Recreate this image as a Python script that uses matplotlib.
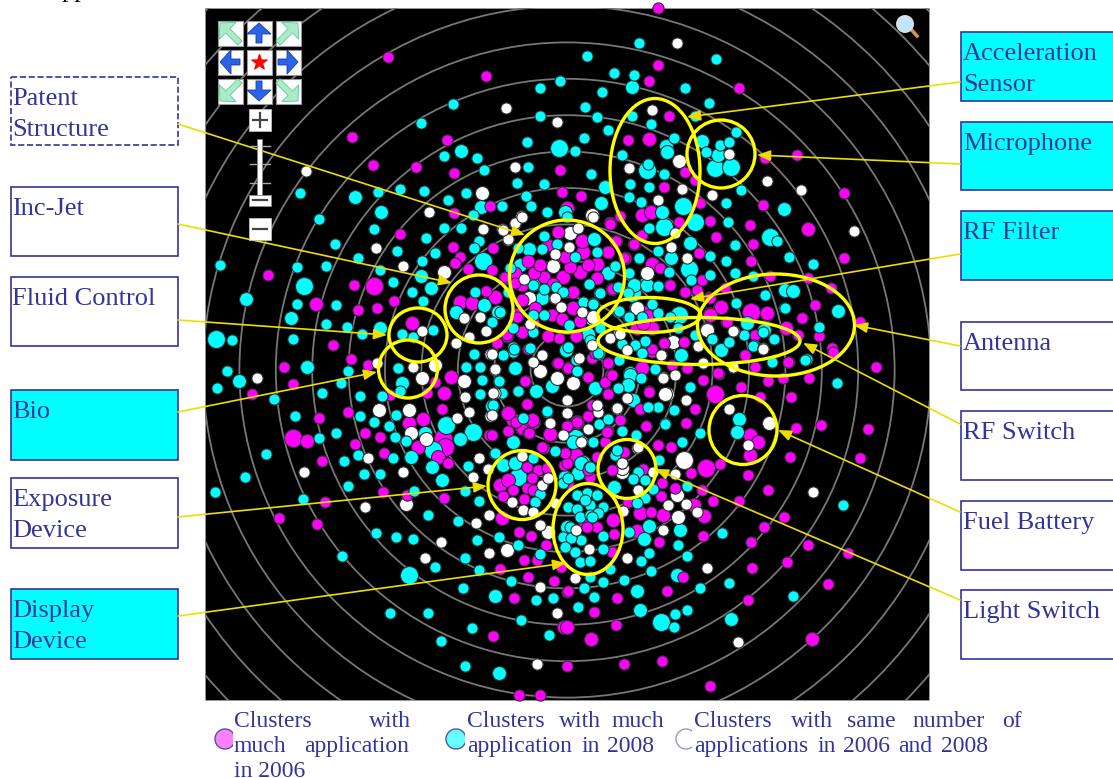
import matplotlib
matplotlib.use("Agg")
import matplotlib.pyplot as plt
from matplotlib.patches import Circle, Ellipse, FancyArrow, Rectangle

# everything in pixel coordinates
magenta_small = [(388,57),(486,76),(352,137),(447,140),(373,165),(416,167),(454,173),(560,170),(562,192),(490,206),
    (454,213),(400,234),(453,247),(493,248),(460,257),(455,263),(468,269),(492,270),(268,275),(354,285),(394,301),
    (358,310),(377,308),(333,345),(486,291),(517,317),(505,277),(515,283),
    (507,335),(497,343),(559,338),
    (658,8),(658,65),(649,81),(739,88),(669,116),(628,140),(797,155),(765,158),(685,172),(664,187),(695,180),(844,193),
    (581,196),(763,205),(700,203),(710,221),(750,225),(610,224),(620,216),(679,222),(716,237),(753,244),(634,244),
    (616,241),(642,235),(699,253),(751,261),(844,258),(624,258),(660,268),(702,280),(669,285),(685,292),(697,291),
    (725,288),(770,276),(808,278),(831,288),(815,305),(802,318),(860,322),(819,336),(709,297),(726,322),(755,335),
    (798,335),(832,348),(684,342),(664,343),
    (351,359),(284,367),(368,365),(293,384),(252,394),(435,382),(390,395),(427,393),(348,412),(319,418),(442,409),
    (365,433),(380,437),(355,444),(322,461),(384,453),(448,463),(489,435),(527,404),(522,429),(528,433),
    (544,448),(565,453),(564,465),(526,381),(557,363),(567,368),(567,427),(383,492),(407,495),(325,502),(444,498),
    (279,518),(317,524),(519,532),(531,536),(546,545),(524,560),(537,560),(500,569),(528,577),(554,581),(514,598),
    (567,592),(493,636),(567,666),(519,695),(540,695),(561,567),(503,496),(513,490),(527,467),(538,470),(532,478),
    (547,468),(524,499),(527,488),(533,490),
    (876,367),(809,378),(783,378),(768,381),(703,380),(741,387),(760,397),(791,397),(719,374),(649,391),(695,409),
    (640,409),(686,423),(646,426),(796,428),(821,425),(868,429),(790,457),(860,458),(720,464),(691,473),(748,475),
    (658,445),(671,447),(768,490),(702,490),(675,488),(661,496),(739,501),(713,501),(784,517),(764,527),(651,512),
    (703,536),(751,542),(808,545),(848,553),(659,542),(787,562),(752,568),(828,584),(683,577),(667,591),(748,600),
    (617,598),(594,612),(616,625),(568,591),(624,664),(662,661),(710,686),(614,534),(612,552),(583,521),(597,527),
    (587,527),(608,393),(605,383),(610,375),(608,364),(588,377),(592,405),(588,416),(608,431),(620,420),(568,426),
    (605,442),(624,453),(597,457),(589,467),(612,470),(590,477),(567,463),(643,469),(662,483),(628,502),(568,483),
    (755,367),(789,362),(745,355),(687,368),(672,365),(592,358),(833,352),(652,352),(568,367)]
magenta_mid = [(316,304),(412,323),(495,297),(460,302),(472,303),(649,139),(642,215),(651,212),(808,229),(652,264),
    (710,314),(720,307),(767,314),(786,328),(567,208),
    (645,313),(637,328),(652,328),(451,377),(444,393),(423,419),(409,423),(307,441),(418,447),(438,457),
    (508,413),(513,420),(533,422),(550,435),(502,518),(564,627),(500,485),(508,480),(750,435),(758,442),(750,455),
    (694,505),(704,516),(663,515),(640,513),(637,531),(591,639),(567,627),(812,639),(613,520),(577,422),(576,457)]
magenta_large = [(374,286),(751,312),(715,394),(293,438),(443,438),(445,447),(706,468)]

# zoomed readings of the dense middle
patent_magenta = [(570,267),(544,277),(534,273),(540,265),(528,261),(565,257),(558,232),(548,245),(573,292),(597,278),
    (612,289),(553,284),(522,285),(505,278),(515,273),(522,300),(535,308),(533,323),(552,315),(562,319),(580,321),
    (507,336),(522,332),(548,336),(576,336),(610,223),(616,241),(634,244),(625,258),(608,252),(588,265)]
patent_magenta_mid = [(597,264),(580,272),(563,277),(583,252),(582,241),(517,315),(573,308)]
patent_cyan = [(544,236),(542,249),(557,244),(518,248),(510,268),(544,289),(556,287),(563,292),(589,284),(599,293),
    (583,302),(593,303),(615,266),(597,252),(575,257),(629,273),(618,287),(628,293),(508,292),(500,312),(533,315),
    (544,315),(569,325),(618,312),(628,317),(600,328),(533,332),(513,328),(567,217),(590,340)]
patent_cyan_mid = [(594,239),(529,249),(520,265),(533,284),(542,298),(608,273)]
patent_white = [(524,279),(555,298),(561,307),(569,247),(555,254),(582,312),(530,324),(508,239),(515,223),(522,217),
    (578,228),(593,217),(503,230)]
patent_white_mid = [(553,266),(529,298),(570,233),(591,318)]

rf_magenta = [(670,285),(685,292),(697,290),(710,298),(802,318),(798,335),(727,322),(755,335),(684,342),(664,343),
    (652,349),(745,355),(788,362),(755,367),(687,368),(718,373),(608,363),(595,353),(612,289),(648,315)]
rf_magenta_mid = [(721,307),(710,315),(767,313),(642,368),(643,323)]
rf_cyan = [(765,295),(785,308),(736,303),(670,317),(658,313),(652,304),(642,317),(629,317),(619,311),(658,286),
    (600,293),(593,304),(763,332),(744,335),(774,339),(753,346),(712,339),(729,342),(695,335),(678,328),(645,341),
    (635,345),(622,344),(642,353),(655,369),(805,360),(772,362),(619,360)]
rf_cyan_mid = [(785,290),(793,291),(647,285),(747,323),(721,350),(598,353),(681,355),(630,373)]
rf_white = [(733,331),(763,349),(610,338),(620,334),(627,350),(698,346),(661,355),(703,363),(733,367),(663,377),
    (675,375),(592,345)]
rf_white_mid = [(637,308),(707,330),(673,342),(593,317)]

mid_magenta = [(528,349),(558,363),(568,368),(588,377),(525,381),(608,363),(608,394),(605,382),(612,375),(649,392),
    (640,409),(527,404),(516,422),(508,431),(529,433),(588,416),(577,422),(567,426),(620,420),(646,426),(492,435),
    (607,432),(542,447),(565,453),(588,470),(624,452),(658,445)]
mid_magenta_mid = [(508,413),(532,420),(522,428),(550,434),(576,455)]
mid_cyan = [(503,355),(514,349),(499,381),(518,391),(502,393),(493,405),(577,371),(547,411),(495,453),(555,451),
    (593,442),(599,424),(608,419),(636,435),(665,424),(648,407),(655,369),(641,378),(618,388),(590,467),(523,418)]
mid_cyan_mid = [(515,368),(536,391),(552,386),(566,350),(595,388),(513,442),(573,442),(630,375),(628,385),(633,400),(581,463)]
mid_white = [(495,369),(533,362),(542,355),(579,358),(567,400),(567,413),(492,415),(550,423),(563,435),(581,442),
    (588,429),(617,408),(598,412),(597,405),(627,398),(663,378),(661,355),(493,393),(638,447),(622,463),(492,354)]
mid_white_mid = [(540,371),(557,378),(573,383),(665,394),(622,468)]

cyan_small = [(560,81),(540,88),(453,104),(421,123),(540,116),(527,142),(444,156),(477,158),(484,170),(528,167),
    (517,183),(544,184),(300,193),(378,192),(400,189),(424,191),(466,193),(448,200),(526,196),(531,206),(502,206),
    (473,215),(547,212),(319,219),(374,229),(444,228),(461,228),(426,238),(479,241),(474,248),(335,244),(397,251),
    (435,253),(358,258),(422,261),(220,265),(297,267),(326,266),(380,270),(393,282),(412,292),(423,301),(297,304),
    (336,305),(326,324),(347,327),(362,334),(293,339),(232,340),(402,334),(433,330),(413,337),(475,292),(492,322),
    (533,285),(513,347),(568,347),(530,348),
    (639,43),(587,56),(716,59),(614,73),(634,75),(685,88),(602,92),(709,103),(585,107),(597,117),(695,116),(632,116),
    (651,124),(608,130),(584,138),(575,151),(736,132),(674,138),(622,155),(720,145),(729,142),(706,152),(591,174),
    (648,164),(664,174),(630,184),(649,187),(741,190),(629,197),(641,202),(726,203),(728,222),(649,228),(777,241),
    (735,245),(658,251),(710,256),(639,258),(789,257),(813,264),(726,261),(735,273),(710,275),(669,272),(691,280),
    (753,276),(658,286),(784,308),(819,327),
    (712,339),(754,345),(645,342),
    (227,371),(217,388),(348,371),(341,383),(322,393),(274,399),(360,396),(295,416),(360,416),(374,422),(389,426),
    (336,433),(319,438),(395,437),(406,441),(393,458),(358,455),(344,461),(266,454),(364,474),(380,474),(245,477),
    (348,486),(414,491),(215,492),(303,499),(465,491),(479,501),(428,515),(458,521),(376,533),(396,537),(413,539),
    (477,540),(499,537),(518,545),(342,556),(465,558),(435,567),(540,554),(479,570),(511,581),(463,588),(536,600),
    (553,598),(390,613),(428,613),(521,620),(472,628),(441,641),(549,635),(465,666),(466,367),(480,367),(474,354),
    (503,355),(482,380),(499,381),(480,394),(502,393),(518,391),(547,412),(495,454),(468,466),(398,368),
    (400,391),(382,396),(396,415),(533,458),(540,494),(535,502),(563,483),(563,537),(513,352),
    (837,383),(807,359),(690,387),(658,407),(674,410),(665,423),(700,433),(622,431),
    (682,442),(659,460),(568,478),(638,472),(645,480),(633,479),(653,489),(645,498),(637,503),
    (687,486),(843,505),(722,533),(629,532),(678,545),(649,553),(687,556),(641,561),(651,571),(729,583),(700,588),
    (624,580),(610,569),(603,582),(584,588),(594,597),(793,596),(578,607),(687,610),(675,614),(674,627),(576,360),
    (577,371),(598,353),(642,353),(615,455),(617,450),
    (587,493),(597,495),(577,495),(568,507),(577,509),(590,505),(603,507),(580,517),(590,515),(570,527),(603,536),
    (581,540),(571,538),(603,549),(575,552),(580,562),(590,561),(565,547),(598,513),(592,517),(585,500),(590,577)]
cyan_mid = [(355,197),(461,151),(481,207),(565,212),(381,212),(421,276),(431,288),(246,299),(291,318),(380,328),
    (498,312),(456,312),(484,305),(666,146),(667,152),(718,155),(605,187),(601,203),
    (632,87),(702,141),(662,212),(784,209),(690,243),(671,258),(646,283),(634,285),
    (838,311),(764,330),(588,334),(239,381),(307,367),(492,406),
    (402,383),(425,433),(460,439),(411,457),(432,467),(442,480),(495,596),(499,673),(503,465),(515,463),
    (565,477),(567,527),(739,419),(737,432),(583,462),(578,473),(614,487),(649,526),(680,530),(644,539),(677,575),
    (637,591),(640,610),(731,619),(681,355)]
cyan_large = [(559,148),(483,261),(304,286),(216,339),(647,170),(715,168),(731,167),(683,206),(695,222),(664,227),
    (770,237),(689,269),(632,293),(679,315),(446,425),(473,432),(433,450),(518,477),(409,575),(661,622),(575,438)]

white_small = [(506,108),(557,122),(306,171),(515,167),(429,212),(521,216),(515,224),(483,229),(502,229),(508,240),
    (376,248),(403,266),(464,318),(480,317),(486,331),(469,337),(456,343),(422,331),(554,298),
    (677,43),(652,110),(729,154),(629,168),(767,181),(801,190),(682,189),(712,195),(658,200),(854,231),
    (675,233),(671,247),(687,258),(734,331),(618,334),(763,348),
    (257,378),(413,367),(377,363),(495,370),(490,354),(465,397),(495,393),(469,412),
    (457,418),(490,416),(368,458),(479,458),(488,469),(473,477),(304,472),(403,472),(365,507),
    (489,515),(476,523),(441,542),(425,558),(489,553),(540,525),(540,587),(557,613),(537,664),(542,485),(548,478),
    (512,502),(523,510),(533,512),(555,503),(522,456),
    (686,400),(703,363),(733,367),(617,409),(582,441),(729,409),(637,448),(653,472),(675,474),(638,490),(813,492),(668,505),
    (686,504),(697,512),(623,511),(663,530),(707,568),(738,642),(748,445),(622,463),(576,530),(589,549),(575,578),(627,558)]
white_mid = [(482,193),(444,272),(553,266),(679,161),(592,215),(647,273),(636,308),(707,329),
    (591,318),(422,378),(435,365),(464,381),(379,410),(409,410),(411,433),
    (426,439),(406,504),(507,550),(548,532),(667,394),(769,423),(622,472),(677,495),(678,517)]
white_large = [(684,460)]

# boxes: (label lines, y0, y1, fill)
left_boxes = [(["Patent", "Structure"], 77, 145, "white"), (["Inc-Jet"], 187, 256, "white"),
    (["Fluid Control"], 277, 346, "white"), (["Bio"], 390, 460, "cyan"),
    (["Exposure", "Device"], 478, 548, "white"), (["Display", "Device"], 589, 659, "cyan")]
right_boxes = [(["Acceleration", "Sensor"], 32, 101, "cyan"), (["Microphone"], 122, 190, "cyan"),
    (["RF Filter"], 211, 280, "cyan"), (["Antenna"], 322, 390, "white"), (["RF Switch"], 411, 480, "white"),
    (["Fuel Battery"], 501, 570, "white"), (["Light Switch"], 590, 659, "white")]

# (cx, cy, w, h)
loops = [(655,171,90,145),(721,154,68,68),(567,276,115,112),(479,309,68,68),(418,335,58,54),(408,369,59,58),
    (522,485,68,69),(588,529,70,91),(627,469,58,59),(743,430,68,69),(649,315,103,35),(776,325,157,102),(699,341,202,47)]
# (x0, y0, x1, y1)
leaders = [(178,124,525,235),(178,224,452,283),(178,320,387,335),(178,412,377,372),(178,517,487,486),(178,616,566,563),
    (960,82,687,117),(960,164,757,155),(960,254,690,299),(960,346,854,325),(960,424,803,343),(960,512,778,430),(960,600,655,469)]

legend_words = [("Clusters",234,719),("with",369,719),("much",234,744),("application",304,744),("in 2006",234,769),
    ("Clusters",467,719),("with",559,719),("much",612,719),("application",467,744),("in",582,744),("2008",607,744),
    ("Clusters",694,719),("with",791,719),("same",847,719),("number",912,719),("of",1002,719),
    ("applications",694,744),("in",818,744),("2006",843,744),("and",898,744),("2008",941,744)]

TEXT_COL = "#333399"
plt.rcParams["font.family"] = ["Liberation Serif", "DejaVu Serif"]

fig = plt.figure(figsize=(11.13, 7.78), dpi=100)
ax = fig.add_axes([0, 0, 1, 1])
ax.set_xlim(0, 1113)
ax.set_ylim(778, 0)
ax.axis("off")

ax.text(62, -3, "pp", color="black", fontsize=19, va="baseline", clip_on=True)

panel = Rectangle((205, 8), 724, 692, fc="black", ec="#aaaaaa", lw=0.4, zorder=1)
ax.add_patch(panel)
for k in range(1, 16):
    ring = Circle((567, 370), 36.4 * k, fc="none", ec="#777777", lw=1.3, zorder=2)
    ax.add_patch(ring)
    ring.set_clip_path(panel)


def dots(points, col, r, z):
    xs = [p[0] for p in points]
    ys = [p[1] for p in points]
    ax.scatter(xs, ys, s=(2 * r * 0.72) ** 2, c=col, edgecolors="#303030", linewidths=0.8, zorder=z)


dots(magenta_large, "#ff00ff", 9, 3)
dots(cyan_large, "#00ffff", 9, 3)
dots(white_large, "white", 9, 3)
dots(magenta_mid + patent_magenta_mid + rf_magenta_mid + mid_magenta_mid, "#ff00ff", 7, 4)
dots(cyan_mid + patent_cyan_mid + rf_cyan_mid + mid_cyan_mid, "#00ffff", 7, 4)
dots(white_mid + patent_white_mid + rf_white_mid + mid_white_mid, "white", 7, 4)
dots(patent_magenta, "#ff00ff", 6.4, 4)
dots(magenta_small + rf_magenta + mid_magenta, "#ff00ff", 5.6, 5)
dots(cyan_small + patent_cyan + rf_cyan + mid_cyan, "#00ffff", 5.6, 5)
dots(white_small + patent_white + rf_white + mid_white, "white", 5.6, 5)

for cx, cy, w, h in loops:
    ax.add_patch(Ellipse((cx, cy), w, h, fc="none", ec="#ffff00", lw=2.4, zorder=7))
for x0, y0, x1, y1 in leaders:
    ax.annotate("", xy=(x1, y1), xytext=(x0, y0), zorder=8,
                arrowprops=dict(arrowstyle="-|>,head_length=0.8,head_width=0.32", color="#eedd00", lw=1.2,
                                shrinkA=0, shrinkB=0))

for lines, y0, y1, fill in left_boxes:
    dashed = lines[0] == "Patent"
    ax.add_patch(Rectangle((11, y0), 167, y1 - y0, fc=fill, ec="#333399", lw=1.2, ls="--" if dashed else "-", zorder=6))
    for i, t in enumerate(lines):
        ax.text(12, y0 + 22 + 31 * i, t, color=TEXT_COL, fontsize=19, va="center", zorder=9)
for lines, y0, y1, fill in right_boxes:
    ax.add_patch(Rectangle((961, y0), 160, y1 - y0, fc=fill, ec="#333399", lw=1.2, zorder=6))
    for i, t in enumerate(lines):
        ax.text(963, y0 + 22 + 31 * i, t, color=TEXT_COL, fontsize=19, va="center", zorder=9)

# map controls
for row, y in enumerate((33, 62, 91)):
    for col, x in enumerate((230, 259, 288)):
        ax.add_patch(Rectangle((x - 12.5, y - 12.5), 25, 25, fc="white", ec="#999999", lw=0.8, zorder=9))
        dx, dy = col - 1, row - 1
        if dx == 0 and dy == 0:
            ax.scatter([x], [y], marker="*", s=130, c="red", zorder=10)
        else:
            diagonal = dx != 0 and dy != 0
            col_arrow = "#a8ecc8" if diagonal else "#2a62e8"
            ax.add_patch(FancyArrow(x - dx * 10, y - dy * 10, dx * 20, dy * 20, width=6, head_width=24,
                                    head_length=11, length_includes_head=True, fc=col_arrow,
                                    ec="#60c8a0" if diagonal else "#1a3aa8", lw=0.6, zorder=10))
for y, mark in ((120, "+"), (229, "-")):
    ax.add_patch(Rectangle((249, y - 11), 22, 22, fc="white", ec="#bbbbbb", lw=0.6, zorder=9))
    ax.plot([253, 267], [y, y], color="#444444", lw=1.6, zorder=10)
    if mark == "+":
        ax.plot([260, 260], [y - 7, y + 7], color="#444444", lw=1.6, zorder=10)
for y in (146, 164, 183):
    ax.plot([250, 270], [y, y], color="#aaaaaa", lw=1, zorder=8)
ax.add_patch(Rectangle((257, 139), 5, 56, fc="white", ec="#888888", lw=0.6, zorder=9))
ax.add_patch(Rectangle((249, 195), 22, 11, fc="white", ec="#888888", lw=0.6, zorder=9))
ax.plot([253, 267], [200, 200], color="#444444", lw=1.6, zorder=10)
# magnifier
ax.plot([909, 917], [27, 36], color="#d89050", lw=2.6, zorder=9)
ax.add_patch(Circle((905, 24), 8, fc="#bfe6ff", ec="#dddddd", lw=1.4, zorder=10))

# legend markers, cut off on the right by the text block
for cx, cut, fc_, ec_ in ((225, 233, "#ff80ff", "#555599"), (456, 465, "#66ffff", "#555599"), (686, 692, "white", "#9999bb")):
    ax.add_patch(Circle((cx, 739), 10, fc=fc_, ec=ec_, lw=1, zorder=3))
    ax.add_patch(Rectangle((cut, 725), 12, 28, fc="white", ec="none", zorder=4))
for t, x, y in legend_words:
    ax.text(x, y + 2.5, t, color=TEXT_COL, fontsize=17, va="center", zorder=9)

fig.savefig("out.png", dpi=100)
